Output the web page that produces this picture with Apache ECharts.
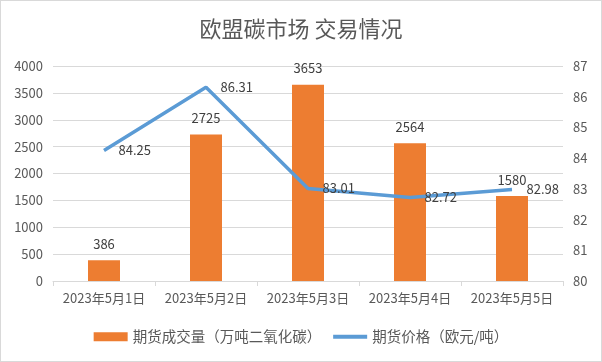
<!DOCTYPE html>
<html><head><meta charset="utf-8">
<script src="https://cdn.jsdelivr.net/npm/echarts@6/dist/echarts.min.js"></script>
<style>html,body{margin:0;padding:0;background:#fff}#c{width:602px;height:362px;box-sizing:border-box;border:1px solid #d9d9d9}</style>
</head><body><div id="c"></div>
<script>
var categories = ['2023年5月1日','2023年5月2日','2023年5月3日','2023年5月4日','2023年5月5日'];
var volume = [386, 2725, 3653, 2564, 1580];
var price = [84.25, 86.31, 83.01, 82.72, 82.98];
var leftTicks = {min:0, max:4000, interval:500};
var rightTicks = {min:80, max:87, interval:1};
var font = '"Noto Sans CJK SC", "Liberation Sans", sans-serif';
var chart = echarts.init(document.getElementById('c'));
chart.setOption({
  animation:false,
  title:{text:'欧盟碳市场 交易情况', left:'center', top:12,
    textStyle:{fontFamily:font, fontSize:22, fontWeight:'normal', color:'#595959'}},
  grid:{left:52, right:38, top:65, bottom:80},
  legend:{bottom:12, left:'center', itemWidth:34, itemHeight:9, itemGap:10,
    textStyle:{fontFamily:font, fontSize:14.5, color:'#595959'},
    data:[{name:'期货成交量（万吨二氧化碳）', icon:'rect'},
          {name:'期货价格（欧元/吨）', lineStyle:{width:4, color:'#5B9BD5'}}]},
  xAxis:{type:'category', data:categories,
    axisLine:{lineStyle:{color:'#d9d9d9'}},
    axisTick:{show:true, length:5, lineStyle:{color:'#d9d9d9'}},
    axisLabel:{interval:0, fontFamily:font, fontSize:13, color:'#595959', margin:11}},
  yAxis:[{type:'value', min:leftTicks.min, max:leftTicks.max, interval:leftTicks.interval,
    axisLine:{show:false}, axisTick:{show:false},
    splitLine:{lineStyle:{color:'#d9d9d9'}},
    axisLabel:{fontFamily:font, fontSize:13, color:'#595959', margin:10, formatter:function(v){return String(v);}}},
   {type:'value', min:rightTicks.min, max:rightTicks.max, interval:rightTicks.interval,
    axisLine:{show:false}, axisTick:{show:false}, splitLine:{show:false},
    axisLabel:{fontFamily:font, fontSize:13, color:'#595959', margin:10, formatter:function(v){return String(v);}}}],
  series:[{name:'期货成交量（万吨二氧化碳）', type:'bar', data:volume, barWidth:32,
    itemStyle:{color:'#ED7D31'},
    label:{show:true, position:'top', distance:10, fontFamily:font, fontSize:13, color:'#404040'}},
   {name:'期货价格（欧元/吨）', type:'line', yAxisIndex:1, data:price, showSymbol:true, symbol:'circle', symbolSize:1,
    lineStyle:{color:'#5B9BD5', width:3.5}, itemStyle:{color:'rgba(0,0,0,0)'},
    label:{show:true, position:'right', distance:14, fontFamily:font, fontSize:13, color:'#404040'}}]
});
</script></body></html>
